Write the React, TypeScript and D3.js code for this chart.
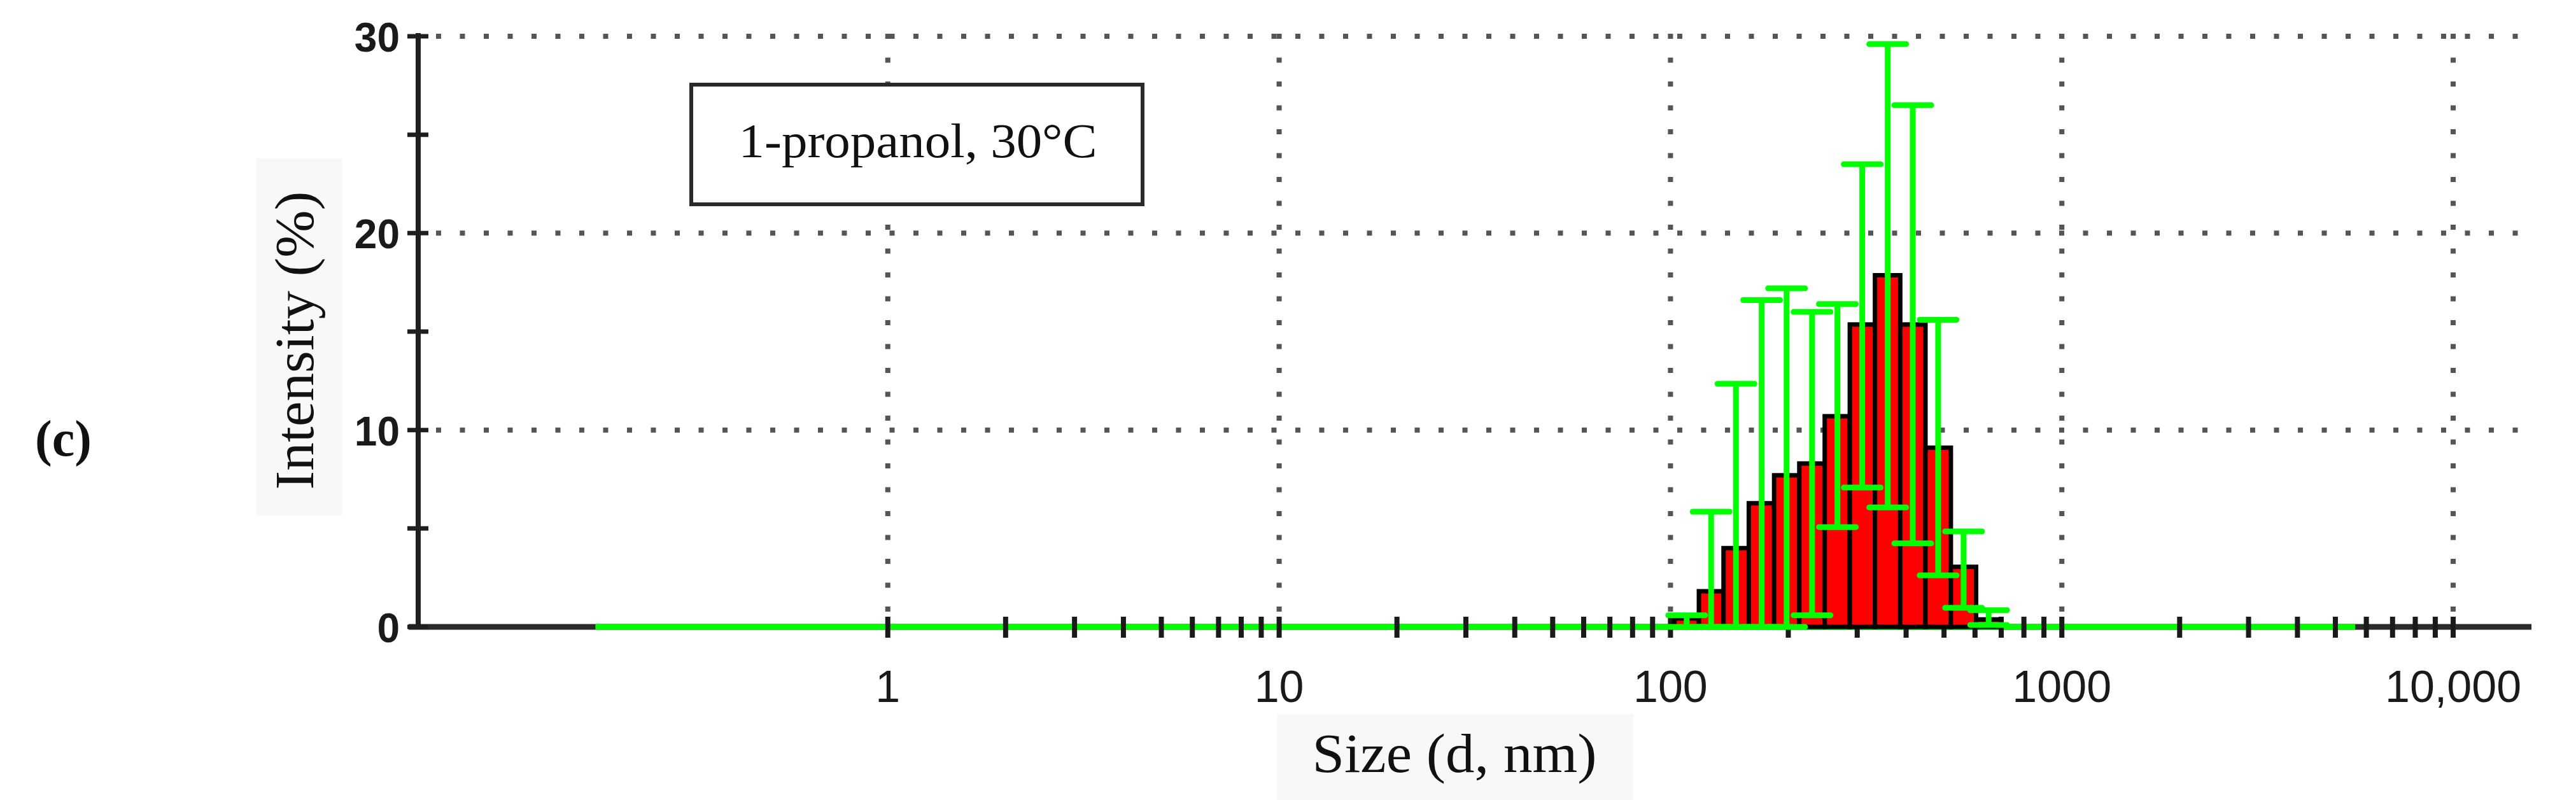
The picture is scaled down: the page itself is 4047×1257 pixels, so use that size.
import * as d3 from 'd3'

// size classes (d, nm) that carry intensity
const sizes = [110, 127, 147, 171, 198, 230, 267, 309, 359, 416, 483, 561, 650]
const intensity = [0.43, 1.81, 4.0, 6.28, 7.7, 8.3, 10.7, 15.36, 17.86, 15.36, 9.1, 3.05, 0.38]
const errLow = [0, 0, 0, 0, 0, 0.59, 5.07, 7.08, 6.07, 4.24, 2.62, 0.97, 0.1]
const errHigh = [0.59, 5.85, 12.35, 16.6, 17.2, 16.0, 16.4, 23.5, 29.6, 26.5, 15.6, 4.85, 0.85]

// zero-intensity error line spans the whole measured range
const measuredRange = [0.179, 5620]

const xMajor = [1, 10, 100, 1000, 10000]
const xTickLabels = ['1', '10', '100', '1000', '10,000']
const yTicks = [0, 5, 10, 15, 20, 25, 30]
const yLabels = [0, 10, 20, 30]
const yGrid = [10, 20, 30]

const W = 4047
const H = 1257
const left = 657
const right = 3977
const top = 57
const bottom = 985

const SERIF = '"Liberation Serif", "Times New Roman", serif'
const SANS = '"Liberation Sans", Arial, sans-serif'
const GREEN = '#00ff00'

export default function App() {
  const x = d3.scaleLog().domain([Math.pow(10, -1.2), Math.pow(10, 4.2)]).range([left, right])
  const y = d3.scaleLinear().domain([0, 30]).range([bottom, top])

  const minorTicks = x.ticks().filter((t) => t >= 1 && t <= 10000)

  // bar edges: geometric midpoints between neighbouring classes
  const edges = sizes.map((s, i) => {
    const prev = i > 0 ? sizes[i - 1] : (s * s) / sizes[i + 1]
    const next = i < sizes.length - 1 ? sizes[i + 1] : (s * s) / sizes[i - 1]
    return [Math.sqrt(prev * s), Math.sqrt(s * next)]
  })

  const capHalf = 29

  return (
    <svg
      width={W}
      height={H}
      style={{ position: 'absolute', left: 0, top: 0, background: '#fff' }}
    >
      {/* axis title backgrounds */}
      <rect x={403} y={249} width={135} height={561} fill="#f8f8f8" />
      <rect x={2006} y={1122} width={560} height={135} fill="#f8f8f8" />

      {/* panel label */}
      <text x={55} y={716} fontFamily={SERIF} fontWeight="bold" fontSize={80} fill="#111">
        (c)
      </text>

      {/* dotted grid */}
      <g stroke="#555" strokeWidth={8} strokeDasharray="8 29.5">
        {yGrid.map((v) => (
          <line key={'h' + v} x1={left + 28} x2={right - 10} y1={y(v)} y2={y(v)} />
        ))}
        {xMajor.map((v) => (
          <line key={'v' + v} x1={x(v)} x2={x(v)} y1={top - 4} y2={bottom - 20} />
        ))}
      </g>

      {/* x axis line */}
      <line x1={left - 15} x2={right} y1={bottom} y2={bottom} stroke="#2b2b2b" strokeWidth={9} />

      {/* zero-level error line */}
      <line
        x1={x(measuredRange[0])}
        x2={x(measuredRange[1])}
        y1={bottom}
        y2={bottom}
        stroke={GREEN}
        strokeWidth={9}
      />

      {/* x ticks */}
      <g stroke="#1a1a1a" strokeWidth={8}>
        {minorTicks.map((t) => (
          <line key={t} x1={x(t)} x2={x(t)} y1={bottom - 16} y2={bottom + 17} />
        ))}
      </g>

      {/* histogram bars */}
      <g fill="#ff0000" stroke="#000" strokeWidth={7}>
        {sizes.map((s, i) => (
          <rect
            key={s}
            x={x(edges[i][0])}
            y={y(intensity[i])}
            width={x(edges[i][1]) - x(edges[i][0])}
            height={y(0) - y(intensity[i])}
          />
        ))}
      </g>

      {/* error bars */}
      <g stroke={GREEN} strokeWidth={9} strokeLinecap="round">
        {sizes.map((s, i) => {
          const cx = x(s)
          return (
            <g key={s}>
              <line x1={cx} x2={cx} y1={y(errLow[i])} y2={y(errHigh[i])} strokeLinecap="butt" />
              <line x1={cx - capHalf} x2={cx + capHalf} y1={y(errHigh[i])} y2={y(errHigh[i])} />
              <line x1={cx - capHalf} x2={cx + capHalf} y1={y(errLow[i])} y2={y(errLow[i])} />
            </g>
          )
        })}
      </g>

      {/* y axis */}
      <line x1={left} x2={left} y1={top - 5} y2={bottom + 4} stroke="#1f1f1f" strokeWidth={8} />
      <g stroke="#1f1f1f" strokeWidth={7}>
        {yTicks.map((v) => (
          <line key={v} x1={left - 17} x2={left + 16} y1={y(v)} y2={y(v)} />
        ))}
      </g>
      <g fontFamily={SANS} fontWeight="bold" fontSize={64} fill="#1a1a1a" textAnchor="end">
        {yLabels.map((v) => (
          <text key={v} x={628} y={y(v) + 24}>
            {v}
          </text>
        ))}
      </g>

      {/* x tick labels */}
      <g fontFamily={SANS} fontSize={70} fill="#1a1a1a" textAnchor="middle">
        {xMajor.map((v, i) => (
          <text key={v} x={x(v)} y={1103}>
            {xTickLabels[i]}
          </text>
        ))}
      </g>

      {/* axis titles */}
      <text
        transform="translate(492,535) rotate(-90)"
        textAnchor="middle"
        fontFamily={SERIF}
        fontSize={86}
        fill="#111"
        textLength={469}
        lengthAdjust="spacingAndGlyphs"
      >
        Intensity (%)
      </text>
      <text
        x={2285}
        y={1213}
        textAnchor="middle"
        fontFamily={SERIF}
        fontSize={86}
        fill="#111"
        textLength={447}
        lengthAdjust="spacingAndGlyphs"
      >
        Size (d, nm)
      </text>

      {/* legend box */}
      <rect x={1086} y={133} width={709} height={188} fill="#fff" stroke="#2a2a2a" strokeWidth={6} />
      <text
        x={1442}
        y={247}
        textAnchor="middle"
        fontFamily={SERIF}
        fontSize={76}
        fill="#111"
        textLength={563}
        lengthAdjust="spacingAndGlyphs"
      >
        1-propanol, 30°C
      </text>
    </svg>
  )
}
